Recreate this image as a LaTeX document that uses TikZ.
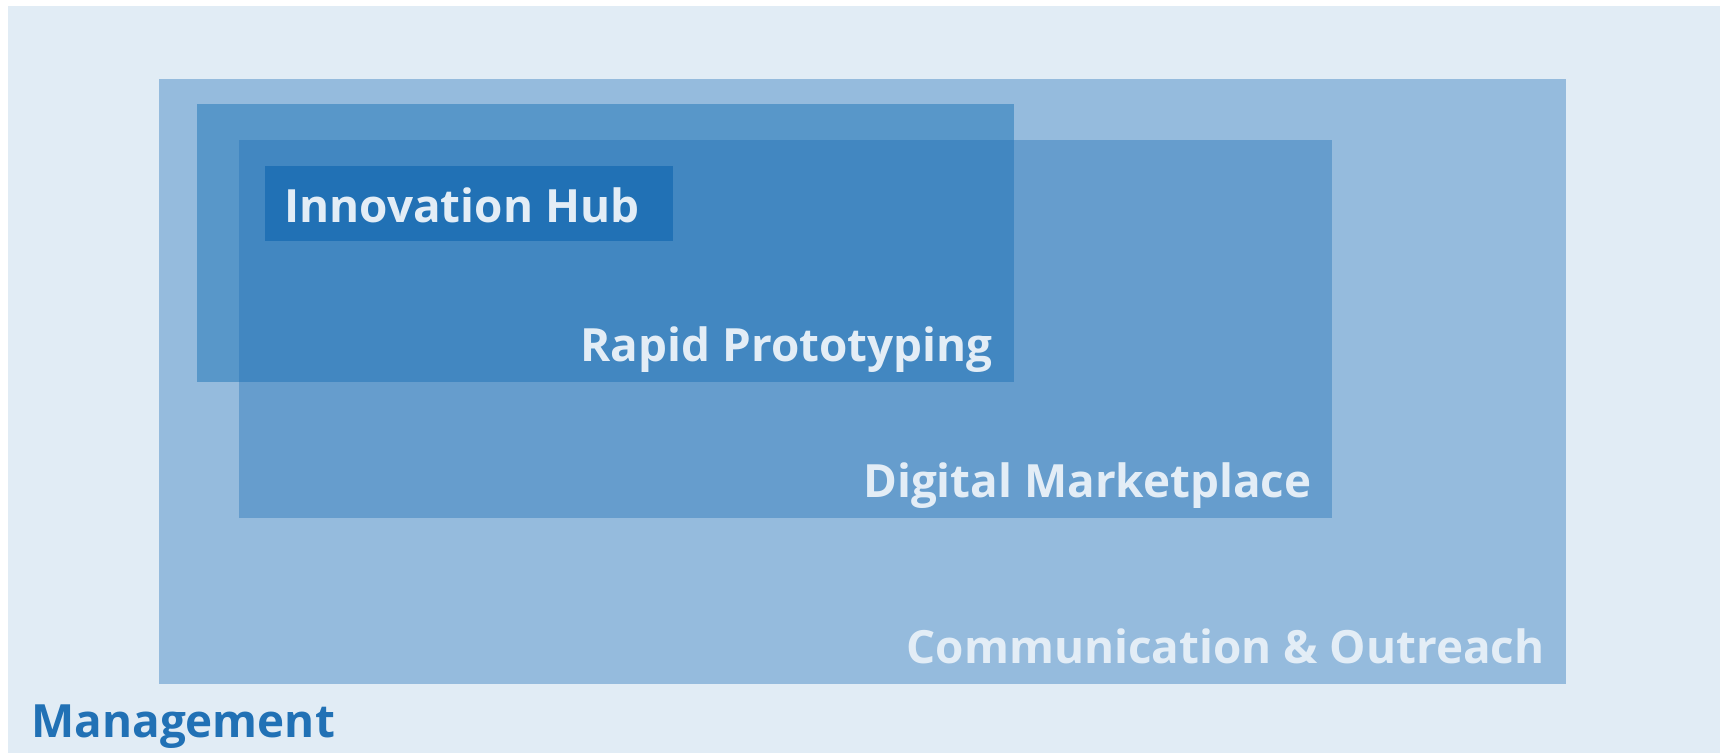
\documentclass[tikz,border=0pt]{standalone}
\usepackage{fontspec}
\setmainfont{Open Sans}
\usepackage{xcolor}
\usetikzlibrary{positioning}

\definecolor{mgmtbg}{HTML}{E1ECF5}
\definecolor{commbg}{HTML}{95BBDD}
\definecolor{rapidbg}{HTML}{5897C9}
\definecolor{hubblue}{HTML}{2171B5}
\definecolor{labeltext}{HTML}{E3EDF6}

\begin{document}
\begin{tikzpicture}[
  x=0.5pt, y=-0.5pt,
  tag/.style={anchor=base east, inner sep=0pt, text=labeltext, font=\fontsize{22.9}{27}\selectfont\bfseries},
  hubtag/.style={anchor=base west, inner sep=0pt, text=labeltext, font=\fontsize{22.9}{27}\selectfont\bfseries},
  mgmttag/.style={anchor=base west, inner sep=0pt, text=hubblue, font=\fontsize{22.9}{27}\selectfont\bfseries}
]
  \useasboundingbox (0,0) rectangle (1725,753);

  % Areas
  \fill[mgmtbg] (8,6) rectangle (1720,753);
  \fill[commbg] (159,79) rectangle (1566,684);
  \fill[rapidbg] (197,104) rectangle (1014,382);
  \fill[hubblue, fill opacity=0.4] (239,140) rectangle (1332,518);
  \fill[hubblue] (265,166) rectangle (673,241);

  % Labels
  \node[hubtag] (hub) at (284,223) {Innovation Hub};
  \node[tag] (rapid) at (993,362) {Rapid Prototyping};
  \node[tag] (market) at (1312,498) {Digital Marketplace};
  \node[tag] (comm) at (1545,663) {Communication \& Outreach};
  \node[mgmttag] (mgmt) at (31,737) {Management};
\end{tikzpicture}
\end{document}
